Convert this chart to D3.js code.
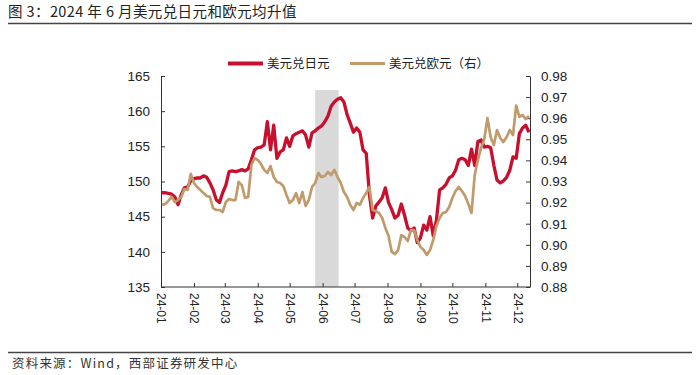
<!DOCTYPE html>
<html>
<head>
<meta charset="utf-8">
<script src="https://cdn.jsdelivr.net/npm/d3@7"></script>
<style>
  body { margin: 0; background: #fff; }
  svg { display: block; }
  text { font-family: "Liberation Sans", Arial, "Noto Sans CJK SC", sans-serif; }
  .cjk { font-family: "Noto Sans CJK SC", "Liberation Sans", sans-serif; }
</style>
</head>
<body>
<div id="chart"></div>
<script>
// data, one value every 3 calendar days from 2024-01-02
const firstDate = new Date(2024, 0, 2);
const stepDays = 3;

const usdJpy = [
  148.4, 148.4, 148.3, 148.2, 147.8, 146.7, 148.1, 149.1, 149.2, 150.1,
  150.4, 150.5, 150.5, 150.8, 150.6, 149.8, 148.8, 147.4, 147.0, 148.4,
  149.5, 151.4, 151.5, 151.4, 151.5, 151.7, 151.5, 151.8, 153.1, 154.5,
  154.8, 154.9, 155.2, 158.5, 154.5, 158.0, 153.3, 154.2, 154.5, 156.2,
  155.0, 156.5, 156.8, 157.0, 157.2, 156.6, 154.9, 156.9, 157.2, 157.6,
  157.9, 158.5, 159.3, 160.7, 161.3, 161.7, 161.9, 161.3, 159.5, 158.3,
  157.0, 157.6, 157.0, 154.5, 154.0, 148.1, 144.8, 146.5, 147.1, 147.7,
  149.1, 147.0, 146.0, 144.8, 145.2, 146.8, 145.2, 143.4, 143.0, 143.4,
  141.3, 142.0, 143.8, 143.1, 145.0, 142.3, 144.5, 148.8, 149.1, 149.6,
  150.5, 150.8, 151.6, 153.1, 153.3, 153.1, 152.3, 154.6, 152.3, 155.7,
  155.9, 154.9, 155.0, 154.8, 152.3, 150.2, 149.8, 150.1, 150.6, 151.6,
  153.5, 153.3, 156.8, 157.6, 158.0, 157.0
];

const usdEur = [
  0.9189, 0.9193, 0.9208, 0.9227, 0.9203, 0.9212, 0.9227, 0.9264, 0.9260, 0.9336,
  0.9293, 0.9274, 0.9260, 0.9245, 0.9231, 0.9227, 0.9174, 0.9165, 0.9165, 0.9155,
  0.9203, 0.9217, 0.9212, 0.9212, 0.9298, 0.9283, 0.9222, 0.9227, 0.9378, 0.9411,
  0.9402, 0.9383, 0.9355, 0.9340, 0.9373, 0.9321, 0.9298, 0.9293, 0.9279, 0.9236,
  0.9198, 0.9212, 0.9245, 0.9198, 0.9250, 0.9184, 0.9212, 0.9274, 0.9293, 0.9340,
  0.9321, 0.9326, 0.9345, 0.9331, 0.9355, 0.9321, 0.9293, 0.9250, 0.9227, 0.9189,
  0.9165, 0.9198, 0.9189, 0.9222, 0.9245, 0.9274, 0.9165, 0.9160, 0.9151, 0.9127,
  0.9080, 0.9042, 0.8966, 0.8956, 0.8975, 0.9046, 0.9037, 0.9018, 0.9070, 0.9070,
  0.9023, 0.8990, 0.8975, 0.8952, 0.8975, 0.9023, 0.9089, 0.9127, 0.9151, 0.9155,
  0.9179, 0.9222, 0.9255, 0.9274, 0.9255, 0.9231, 0.9193, 0.9151, 0.9331, 0.9402,
  0.9459, 0.9501, 0.9600, 0.9510, 0.9473, 0.9544, 0.9506, 0.9487, 0.9511, 0.9544,
  0.9520, 0.9660, 0.9606, 0.9615, 0.9596, 0.9610
];

const leftTicks = [135, 140, 145, 150, 155, 160, 165];
const rightTicks = [0.88, 0.89, 0.90, 0.91, 0.92, 0.93, 0.94, 0.95, 0.96, 0.97, 0.98];
const monthLabels = ["24-01", "24-02", "24-03", "24-04", "24-05", "24-06",
                     "24-07", "24-08", "24-09", "24-10", "24-11", "24-12"];
const seriesNames = ["美元兑日元", "美元兑欧元（右）"];
const shadeFrom = new Date(2024, 4, 25);
const shadeTo = new Date(2024, 5, 16);
const shadeTop = 163;

const titleText = "图 3：2024 年 6 月美元兑日元和欧元均升值";
const sourceText = "资料来源：Wind，西部证券研发中心";

const red = "#c8102e", tan = "#c19a6b";

// build rows
let rows = usdJpy.map((v, i) => ({
    date: d3.timeDay.offset(firstDate, i * stepDays),
    jpy: v,
    eur: usdEur[i]
}));

const W = 699, H = 375;
const plot = {left: 161, right: 530, top: 76, bottom: 287};

let svg = d3.select("#chart").append("svg")
    .attr("width", W)
    .attr("height", H);

// title + rules
svg.append("text")
    .attr("class", "cjk")
    .attr("x", 8).attr("y", 17)
    .attr("font-size", 14.5)
    .attr("letter-spacing", 0.4)
    .attr("fill", "#222")
    .text(titleText);
svg.append("line")
    .attr("x1", 8).attr("x2", 692).attr("y1", 23.5).attr("y2", 23.5)
    .attr("stroke", "#444").attr("stroke-width", 1.3);
svg.append("line")
    .attr("x1", 8).attr("x2", 692).attr("y1", 352.5).attr("y2", 352.5)
    .attr("stroke", "#444").attr("stroke-width", 1.3);
svg.append("text")
    .attr("class", "cjk")
    .attr("x", 12).attr("y", 368)
    .attr("font-size", 12.5)
    .attr("letter-spacing", 1.2)
    .attr("fill", "#333")
    .text(sourceText);

// scales
let x = d3.scaleTime()
    .domain([new Date(2024, 0, 1), new Date(2024, 11, 13)])
    .range([plot.left, plot.right]);
let yL = d3.scaleLinear().domain([135, 165]).range([plot.bottom, plot.top]);
let yR = d3.scaleLinear().domain([0.88, 0.98]).range([plot.bottom, plot.top]);

// shaded window
svg.append("rect")
    .attr("x", x(shadeFrom))
    .attr("y", yL(shadeTop))
    .attr("width", x(shadeTo) - x(shadeFrom))
    .attr("height", plot.bottom - yL(shadeTop))
    .attr("fill", "#d9d9d9");

// axes
let monthStarts = d3.timeMonth.range(new Date(2024, 0, 1), new Date(2024, 11, 2));

let xAxis = svg.append("g")
    .attr("transform", `translate(0,${plot.bottom})`)
    .call(d3.axisBottom(x)
        .tickValues(monthStarts)
        .tickFormat((d, i) => monthLabels[i])
        .tickSizeInner(-4)
        .tickSizeOuter(0));
xAxis.select(".domain").attr("d", `M${plot.left},0H${plot.right}`);
xAxis.selectAll("text")
    .attr("font-size", 12)
    .attr("fill", "#222")
    .attr("transform", "rotate(90)")
    .attr("text-anchor", "start")
    .attr("dy", "0.35em")
    .attr("y", 0)
    .attr("x", 6);

let leftAxis = svg.append("g")
    .attr("transform", `translate(${plot.left},0)`)
    .call(d3.axisLeft(yL).tickValues(leftTicks).tickSizeInner(-4).tickSizeOuter(0).tickPadding(11));
let rightAxis = svg.append("g")
    .attr("transform", `translate(${plot.right},0)`)
    .call(d3.axisRight(yR).tickValues(rightTicks).tickFormat(d3.format(".2f"))
        .tickSizeInner(-4).tickSizeOuter(0).tickPadding(11));

[xAxis, leftAxis, rightAxis].forEach(a => {
    a.select(".domain").attr("stroke", "#333");
    a.selectAll(".tick line").attr("stroke", "#333");
});
[leftAxis, rightAxis].forEach(a => {
    a.selectAll("text").attr("font-size", 13.5).attr("fill", "#222");
});

// lines
let jpyLine = d3.line().x(d => x(d.date)).y(d => yL(d.jpy));
let eurLine = d3.line().x(d => x(d.date)).y(d => yR(d.eur));

svg.append("path")
    .datum(rows)
    .attr("d", jpyLine)
    .attr("fill", "none")
    .attr("stroke", red)
    .attr("stroke-width", 3.3)
    .attr("stroke-linejoin", "round");

svg.append("path")
    .datum(rows)
    .attr("d", eurLine)
    .attr("fill", "none")
    .attr("stroke", tan)
    .attr("stroke-width", 2.7)
    .attr("stroke-linejoin", "round");

// legend
let legend = svg.append("g");
[{x: 228, color: red, w: 4}, {x: 350, color: tan, w: 3}].forEach((l, i) => {
    legend.append("line")
        .attr("x1", l.x).attr("x2", l.x + 35)
        .attr("y1", 63.5).attr("y2", 63.5)
        .attr("stroke", l.color).attr("stroke-width", l.w);
    legend.append("text")
        .attr("class", "cjk")
        .attr("x", l.x + 39).attr("y", 68)
        .attr("font-size", 12.5)
        .attr("fill", "#222")
        .text(seriesNames[i]);
});
</script>
</body>
</html>
